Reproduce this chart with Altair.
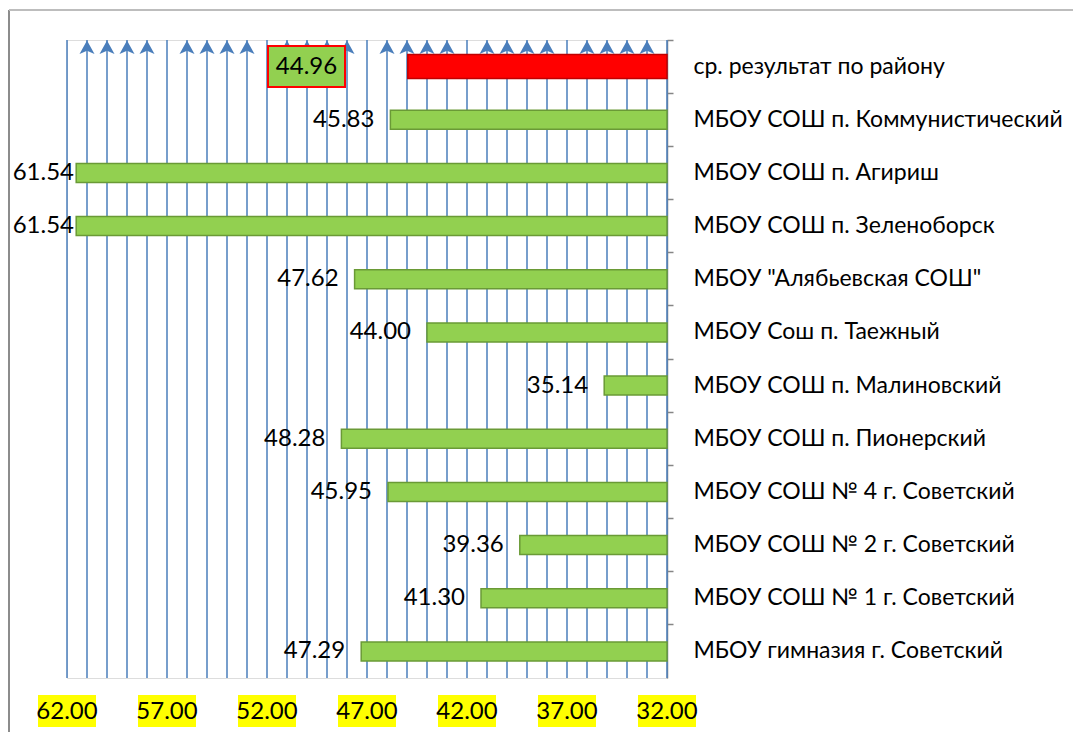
import altair as alt
import pandas as pd

categories = [
    "ср. результат по району",
    "МБОУ СОШ п. Коммунистический",
    "МБОУ СОШ п. Агириш",
    "МБОУ СОШ п. Зеленоборск",
    'МБОУ "Алябьевская СОШ"',
    "МБОУ Сош п. Таежный",
    "МБОУ СОШ п. Малиновский",
    "МБОУ СОШ п. Пионерский",
    "МБОУ СОШ № 4 г. Советский",
    "МБОУ СОШ № 2 г. Советский",
    "МБОУ СОШ № 1 г. Советский",
    "МБОУ гимназия г. Советский",
]
values = [44.96, 45.83, 61.54, 61.54, 47.62, 44.00, 35.14, 48.28, 45.95, 39.36, 41.30, 47.29]
kinds = ["avg"] + ["school"] * (len(categories) - 1)
tick_values = [62, 57, 52, 47, 42, 37, 32]
grid_values = list(range(32, 63))
minor_values = [v for v in grid_values if v not in tick_values]

W, H = 600, 638
FONT = "Lato"

df = pd.DataFrame({"name": categories, "value": values, "kind": kinds})

xscale = alt.Scale(domain=[32, 62], reverse=True, nice=False, zero=False)
yscale = alt.Scale(paddingInner=0, paddingOuter=0)
yenc = alt.Y(
    "name:N", sort=categories, scale=yscale, title=None,
    axis=alt.Axis(orient="right", domainColor="#868686", domainWidth=1.5,
                  tickColor="#868686", tickWidth=1.5, tickSize=6, bandPosition=0,
                  labelPadding=20, labelFont=FONT, labelFontSize=23,
                  labelColor="black", labelLimit=0, grid=False),
)

grid = alt.Chart(pd.DataFrame({"g": grid_values})).mark_rule(
    color="#4A7EBB", strokeWidth=1.5
).encode(
    x=alt.X("g:Q", scale=xscale, title=None,
            axis=alt.Axis(values=tick_values, labels=False, grid=False,
                          domainColor="#868686", domainWidth=1.5,
                          tickColor="#868686", tickWidth=1.5, tickSize=8)),
    y=alt.value(0), y2=alt.value(H),
)

arrows = alt.Chart(pd.DataFrame({"g": minor_values})).mark_point(
    shape="M0,-1L1,0.8L0,0.35L-1,0.8Z", filled=True, fill="#4A7EBB",
    stroke=None, opacity=1, size=225
).encode(x=alt.X("g:Q", scale=xscale, axis=None), y=alt.value(8))

green = alt.Chart(df).transform_filter("datum.kind == 'school'").mark_bar(
    size=19, fill="#92D050", stroke="#6A9A36", strokeWidth=1.5
).encode(x=alt.X("value:Q", scale=xscale, axis=None), x2=alt.datum(32), y=yenc)

red = alt.Chart(df).transform_filter("datum.kind == 'avg'").mark_bar(
    size=24, fill="#FF0000", stroke="#C00000", strokeWidth=1.5
).encode(x=alt.X("value:Q", scale=xscale, axis=None), x2=alt.datum(32), y=yenc)

vlabels = alt.Chart(df).transform_filter("datum.kind == 'school'").transform_calculate(
    lx="min(datum.value + 0.8, 61.65)"
).mark_text(align="right", baseline="middle", font=FONT, fontSize=24, color="black").encode(
    x=alt.X("lx:Q", scale=xscale, axis=None), y=yenc,
    text=alt.Text("value:Q", format=".2f"),
)

avgbox = alt.Chart(df).transform_filter("datum.kind == 'avg'").mark_rect(
    fill="#92D050", stroke="#FF0000", strokeWidth=2
).encode(x=alt.value(201), x2=alt.value(278), y=alt.value(6), y2=alt.value(47))

avgtext = alt.Chart(df).transform_filter("datum.kind == 'avg'").mark_text(
    align="center", baseline="middle", font=FONT, fontSize=24, color="black"
).encode(x=alt.value(239.5), y=yenc, text=alt.Text("value:Q", format=".2f"))

tickbg = alt.Chart(pd.DataFrame({"t": tick_values})).transform_calculate(
    lo="datum.t + 1.45", hi="datum.t - 1.45"
).mark_rect(fill="#FFFF00").encode(
    x=alt.X("lo:Q", scale=xscale, axis=None), x2="hi:Q",
    y=alt.value(655), y2=alt.value(687),
)

ticktext = alt.Chart(pd.DataFrame({"t": tick_values})).mark_text(
    align="center", baseline="middle", font=FONT, fontSize=24, color="black"
).encode(x=alt.X("t:Q", scale=xscale, axis=None), y=alt.value(672),
         text=alt.Text("t:Q", format=".2f"))

one = pd.DataFrame({"a": [0]})
border_left = alt.Chart(one).mark_rule(color="#8C8C8C", strokeWidth=2).encode(
    x=alt.value(-58), y=alt.value(-30), y2=alt.value(720))
border_top = alt.Chart(one).mark_rule(color="#BDBDBD", strokeWidth=2).encode(
    x=alt.value(-58), x2=alt.value(1100), y=alt.value(-30))

chart = alt.layer(
    border_left, border_top, grid, arrows, red, green, vlabels, avgbox, avgtext,
    tickbg, ticktext,
).properties(
    width=W, height=H,
    autosize=alt.AutoSizeParams(type="none"),
    padding={"left": 59, "top": 32, "right": 406, "bottom": 54},
).configure_view(stroke=None).configure(background="white")

chart.save("out.html", embed_options={"renderer": "svg", "actions": False})
